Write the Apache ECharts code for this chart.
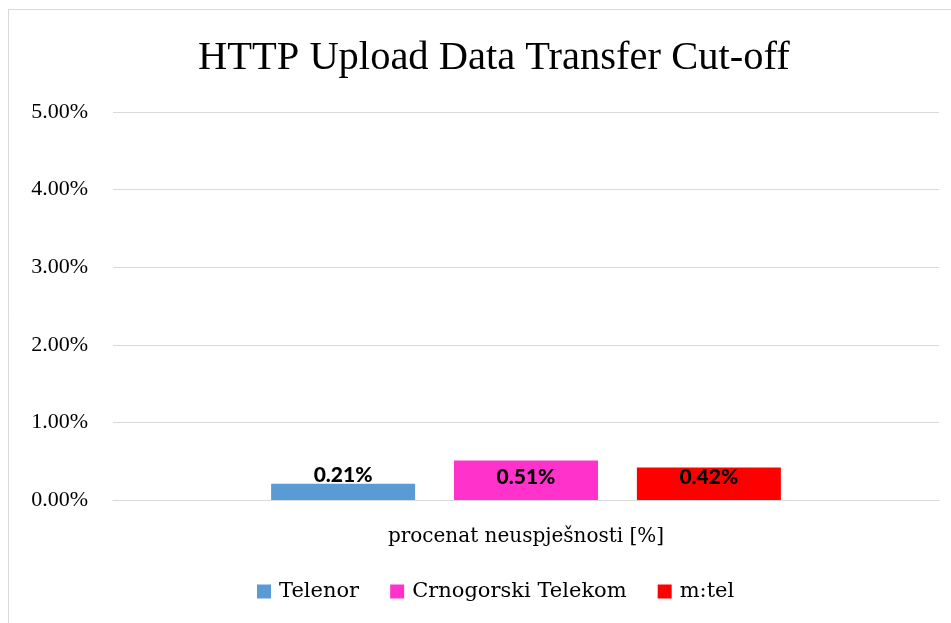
<!DOCTYPE html>
<html>
<head>
<meta charset="utf-8">
<title>HTTP Upload Data Transfer Cut-off</title>
<script src="https://cdn.jsdelivr.net/npm/echarts@6/dist/echarts.min.js"></script>
<style>
  html, body { margin: 0; padding: 0; background: #fff; }
  #chart { width: 951px; height: 623px; }
</style>
</head>
<body>
<div id="chart"></div>
<script>
// values (percent)
const categories = ['procenat neuspješnosti [%]']
const operators = ['Telenor', 'Crnogorski Telekom', 'm:tel']
const telenor = [0.21]
const crnogorski = [0.51]
const mtel = [0.42]
const yTicks = [0, 1, 2, 3, 4, 5]

const colors = ['#5b9bd5', '#ff33cc', '#ff0000']
const serif = '"Liberation Serif", serif'
const wideSerif = '"DejaVu Serif", serif'

const chart = echarts.init(document.getElementById('chart'))

function barSeries(name, values, color, labelPos, dist) {
  return {
    name: name,
    type: 'bar',
    barWidth: 144,
    barGap: '27%',
    itemStyle: { color: color },
    label: {
      show: true,
      position: labelPos,
      distance: dist,
      formatter: p => p.value.toFixed(2) + '%',
      fontFamily: 'Lato, "Open Sans", sans-serif',
      fontWeight: 900,
      fontSize: 21,
      color: '#000'
    },
    data: values
  }
}

const option = {
  backgroundColor: '#fff',
  animation: false,
  graphic: [{
    type: 'rect',
    shape: { x: 8.5, y: 9.5, width: 1000, height: 700 },
    style: { fill: 'none', stroke: '#d9d9d9', lineWidth: 1 },
    silent: true
  }],
  title: {
    text: 'HTTP Upload Data Transfer Cut-off',
    left: 193,
    top: 33,
    textStyle: {
      fontFamily: serif,
      fontWeight: 'normal',
      fontSize: 40.5,
      color: '#000'
    }
  },
  legend: {
    data: operators,
    top: 576,
    left: 252,
    itemWidth: 14,
    itemHeight: 14,
    itemGap: 31,
    icon: 'rect',
    textStyle: {
      fontFamily: wideSerif,
      fontSize: 21,
      color: '#000',
      padding: [0, 0, 0, 3]
    }
  },
  grid: {
    left: 113,
    right: 12,
    top: 112,
    bottom: 123
  },
  xAxis: {
    type: 'category',
    data: categories,
    axisTick: { show: false },
    axisLine: { lineStyle: { color: '#d9d9d9', width: 1 } },
    axisLabel: {
      margin: 27,
      fontFamily: wideSerif,
      fontSize: 20,
      color: '#000'
    }
  },
  yAxis: {
    type: 'value',
    min: yTicks[0],
    max: yTicks[yTicks.length - 1],
    interval: 1,
    axisLine: { show: false },
    axisTick: { show: false },
    splitLine: { lineStyle: { color: '#d9d9d9', width: 1 } },
    axisLabel: {
      margin: 25,
      fontFamily: serif,
      fontSize: 22,
      color: '#000',
      formatter: v => v.toFixed(2) + '%'
    }
  },
  series: [
    barSeries(operators[0], telenor, colors[0], 'top', -2),
    barSeries(operators[1], crnogorski, colors[1], 'insideTop', 6),
    barSeries(operators[2], mtel, colors[2], 'insideTop', -1)
  ]
}

chart.setOption(option)
</script>
</body>
</html>
